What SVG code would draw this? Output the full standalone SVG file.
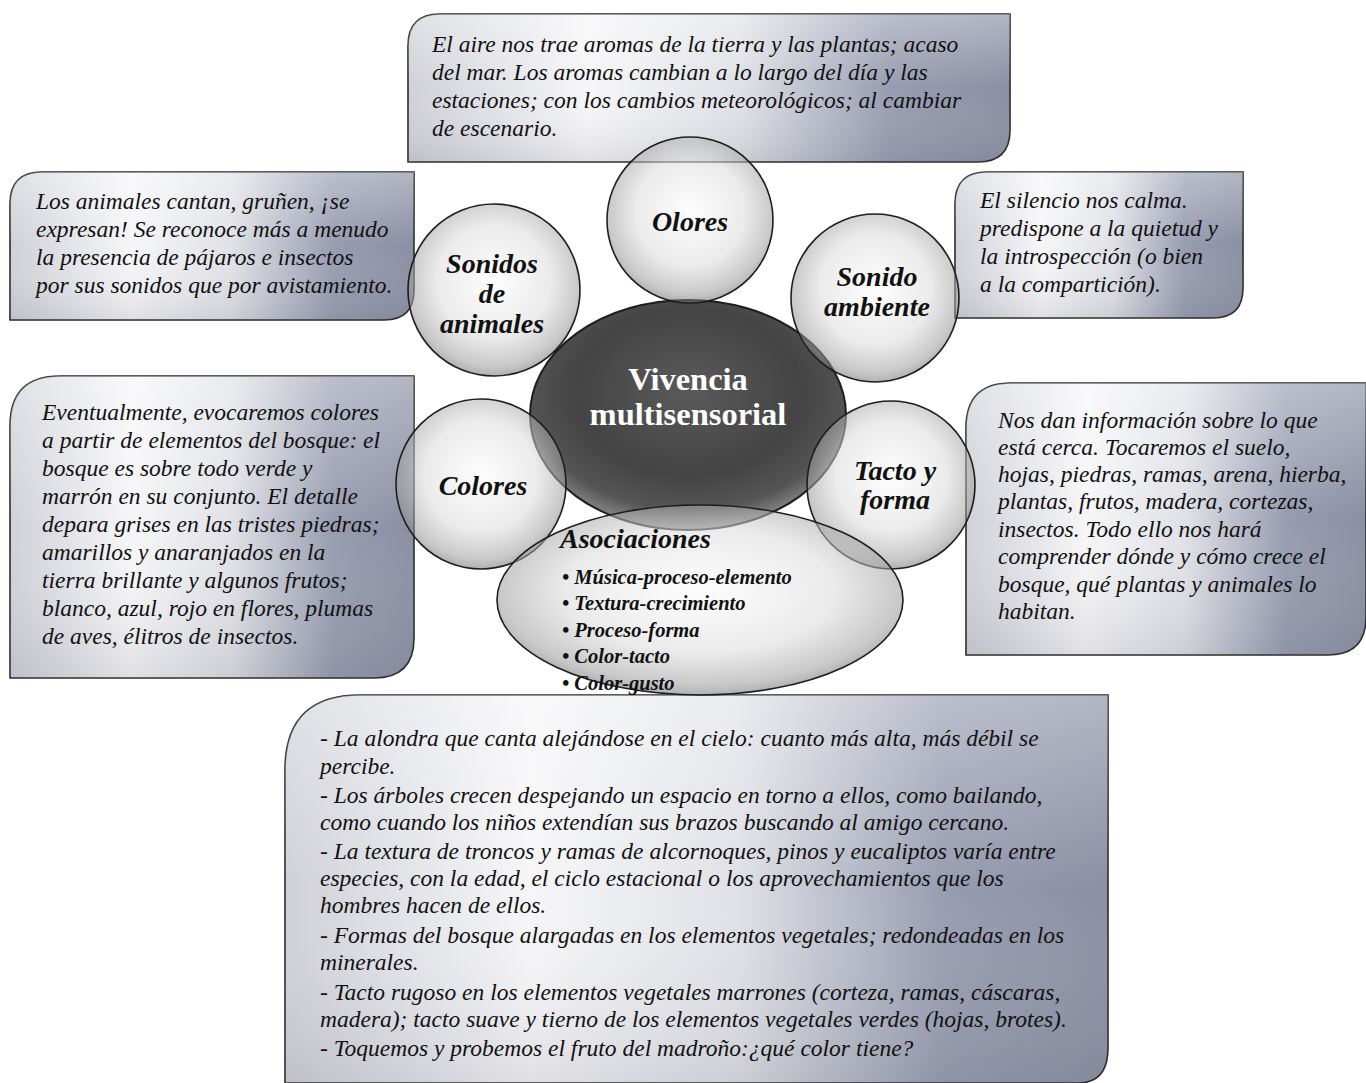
<svg xmlns="http://www.w3.org/2000/svg" width="1366" height="1083" viewBox="0 0 1366 1083">
<defs>
<linearGradient id="boxg" x1="0" y1="0" x2="1" y2="0">
<stop offset="0" stop-color="#cfd1d8"/>
<stop offset="0.3" stop-color="#f6f6f8"/>
<stop offset="0.55" stop-color="#dfe1e6"/>
<stop offset="0.8" stop-color="#979cb0"/>
<stop offset="1" stop-color="#8a8fa3"/>
</linearGradient>
<linearGradient id="boxv" x1="0" y1="0" x2="0" y2="1">
<stop offset="0" stop-color="#ffffff" stop-opacity="0.35"/>
<stop offset="0.5" stop-color="#ffffff" stop-opacity="0"/>
<stop offset="1" stop-color="#606070" stop-opacity="0.15"/>
</linearGradient>
<radialGradient id="circg" cx="0.5" cy="0.45" r="0.55">
<stop offset="0" stop-color="#fcfcfc"/>
<stop offset="0.6" stop-color="#dadada"/>
<stop offset="0.9" stop-color="#9c9c9c"/>
<stop offset="1" stop-color="#707070"/>
</radialGradient>
<radialGradient id="centg" cx="0.5" cy="0.4" r="0.6">
<stop offset="0" stop-color="#5a5a5a"/>
<stop offset="0.6" stop-color="#444444"/>
<stop offset="0.85" stop-color="#555555"/>
<stop offset="1" stop-color="#8a8a8a"/>
</radialGradient>
<style>
.box{fill:url(#boxg);stroke:#2a2a2a;stroke-width:1.6}
.boxo{fill:url(#boxv);stroke:none}
.bt{font-family:"Liberation Serif","Times New Roman",serif;font-style:italic;font-size:23.5px;fill:#111}
.bb{font-family:"Liberation Serif","Times New Roman",serif;font-style:italic;font-size:23.5px;fill:#111}
.circ{fill:url(#circg);fill-opacity:0.55;stroke:#1e1e1e;stroke-width:1.6}
.ct{font-family:"Liberation Serif","Times New Roman",serif;font-style:italic;font-weight:bold;font-size:28px;fill:#111;text-anchor:middle}
.cen{fill:url(#centg);stroke:#1e1e1e;stroke-width:2}
.cent{font-family:"Liberation Serif","Times New Roman",serif;font-weight:bold;font-size:32.5px;fill:#fff;text-anchor:middle}
.as{font-family:"Liberation Serif","Times New Roman",serif;font-style:italic;font-weight:bold;font-size:20.5px;fill:#111}
</style>
</defs>
<rect width="1366" height="1083" fill="#ffffff"/>

<g id="box-olores">
<path class="box" d="M408,46 Q408,14 440,14 H1010 V130 Q1010,162 978,162 H408 Z"/>
<path class="boxo" d="M408,46 Q408,14 440,14 H1010 V130 Q1010,162 978,162 H408 Z"/>
<text class="bt" x="432" y="52">El aire nos trae aromas de la tierra y las plantas; acaso</text>
<text class="bt" x="432" y="80">del mar. Los aromas cambian a lo largo del día y las</text>
<text class="bt" x="432" y="108">estaciones; con los cambios meteorológicos; al cambiar</text>
<text class="bt" x="432" y="136">de escenario.</text>
</g>

<g id="box-sonidos-animales">
<path class="box" d="M10,204 Q10,172 42,172 H414 V290 Q414,320 384,320 H10 Z"/>
<path class="boxo" d="M10,204 Q10,172 42,172 H414 V290 Q414,320 384,320 H10 Z"/>
<text class="bt" x="36" y="209">Los animales cantan, gruñen, ¡se</text>
<text class="bt" x="36" y="237">expresan! Se reconoce más a menudo</text>
<text class="bt" x="36" y="265">la presencia de pájaros e insectos</text>
<text class="bt" x="36" y="293">por sus sonidos que por avistamiento.</text>
</g>

<g id="box-sonido-ambiente">
<path class="box" d="M955,204 Q955,172 987,172 H1243 V288 Q1243,318 1213,318 H955 Z"/>
<path class="boxo" d="M955,204 Q955,172 987,172 H1243 V288 Q1243,318 1213,318 H955 Z"/>
<text class="bt" x="980" y="208">El silencio nos calma.</text>
<text class="bt" x="980" y="236">predispone a la quietud y</text>
<text class="bt" x="980" y="264">la introspección (o bien</text>
<text class="bt" x="980" y="292">a la compartición).</text>
</g>

<g id="box-colores">
<path class="box" d="M10,426 Q10,376 60,376 H414 V638 Q414,678 374,678 H10 Z"/>
<path class="boxo" d="M10,426 Q10,376 60,376 H414 V638 Q414,678 374,678 H10 Z"/>
<text class="bt" x="42" y="420">Eventualmente, evocaremos colores</text>
<text class="bt" x="42" y="448">a partir de elementos del bosque: el</text>
<text class="bt" x="42" y="476">bosque es sobre todo verde y</text>
<text class="bt" x="42" y="504">marrón en su conjunto. El detalle</text>
<text class="bt" x="42" y="532">depara grises en las tristes piedras;</text>
<text class="bt" x="42" y="560">amarillos y anaranjados en la</text>
<text class="bt" x="42" y="588">tierra brillante y algunos frutos;</text>
<text class="bt" x="42" y="616">blanco, azul, rojo en flores, plumas</text>
<text class="bt" x="42" y="644">de aves, élitros de insectos.</text>
</g>

<g id="box-tacto">
<path class="box" d="M966,428 Q966,383 1011,383 H1366 V617 Q1366,655 1328,655 H966 Z"/>
<path class="boxo" d="M966,428 Q966,383 1011,383 H1366 V617 Q1366,655 1328,655 H966 Z"/>
<text class="bt" x="998" y="428">Nos dan información sobre lo que</text>
<text class="bt" x="998" y="455">está cerca. Tocaremos el suelo,</text>
<text class="bt" x="998" y="482">hojas, piedras, ramas, arena, hierba,</text>
<text class="bt" x="998" y="509">plantas, frutos, madera, cortezas,</text>
<text class="bt" x="998" y="537">insectos. Todo ello nos hará</text>
<text class="bt" x="998" y="564">comprender dónde y cómo crece el</text>
<text class="bt" x="998" y="592">bosque, qué plantas y animales lo</text>
<text class="bt" x="998" y="619">habitan.</text>
</g>

<g id="box-asociaciones">
<path class="box" d="M285,770 Q285,695 360,695 H1108 V1048 Q1108,1083 1078,1083 H285 Z"/>
<path class="boxo" d="M285,770 Q285,695 360,695 H1108 V1048 Q1108,1083 1078,1083 H285 Z"/>
<text class="bb" x="320" y="746">- La alondra que canta alejándose en el cielo: cuanto más alta, más débil se</text>
<text class="bb" x="320" y="774">percibe.</text>
<text class="bb" x="320" y="803">- Los árboles crecen despejando un espacio en torno a ellos, como bailando,</text>
<text class="bb" x="320" y="830">como cuando los niños extendían sus brazos buscando al amigo cercano.</text>
<text class="bb" x="320" y="859">- La textura de troncos y ramas de alcornoques, pinos y eucaliptos varía entre</text>
<text class="bb" x="320" y="886">especies, con la edad, el ciclo estacional o los aprovechamientos que los</text>
<text class="bb" x="320" y="913">hombres hacen de ellos.</text>
<text class="bb" x="320" y="943">- Formas del bosque alargadas en los elementos vegetales; redondeadas en los</text>
<text class="bb" x="320" y="970">minerales.</text>
<text class="bb" x="320" y="1000">- Tacto rugoso en los elementos vegetales marrones (corteza, ramas, cáscaras,</text>
<text class="bb" x="320" y="1027">madera); tacto suave y tierno de los elementos vegetales verdes (hojas, brotes).</text>
<text class="bb" x="320" y="1056">- Toquemos y probemos el fruto del madroño:¿qué color tiene?</text>
</g>

<g id="node-vivencia">
<ellipse class="cen" cx="688" cy="415" rx="158" ry="115"/>
<text class="cent" x="688" y="390">Vivencia</text>
<text class="cent" x="688" y="425">multisensorial</text>
</g>

<g id="node-olores">
<circle class="circ" cx="690" cy="220" r="83"/>
<text class="ct" x="690" y="231">Olores</text>
</g>

<g id="node-sonidos-animales">
<circle class="circ" cx="494" cy="290" r="86"/>
<text class="ct" x="492" y="273">Sonidos</text>
<text class="ct" x="492" y="303">de</text>
<text class="ct" x="492" y="333">animales</text>
</g>

<g id="node-sonido-ambiente">
<circle class="circ" cx="875" cy="298" r="84"/>
<text class="ct" x="877" y="286">Sonido</text>
<text class="ct" x="877" y="316">ambiente</text>
</g>

<g id="node-colores">
<circle class="circ" cx="481" cy="484" r="85"/>
<text class="ct" x="483" y="495">Colores</text>
</g>

<g id="node-tacto">
<circle class="circ" cx="891" cy="485" r="84"/>
<text class="ct" x="895" y="480">Tacto y</text>
<text class="ct" x="895" y="509">forma</text>
</g>

<g id="node-asociaciones">
<ellipse class="circ" cx="700" cy="600" rx="203" ry="95"/>
<text class="ct" x="560" y="548" style="text-anchor:start">Asociaciones</text>
<text class="as" x="562" y="584">• Música-proceso-elemento</text>
<text class="as" x="562" y="610">• Textura-crecimiento</text>
<text class="as" x="562" y="637">• Proceso-forma</text>
<text class="as" x="562" y="663">• Color-tacto</text>
<text class="as" x="562" y="690">• Color-gusto</text>
</g>

<g id="connectors"/>
</svg>
